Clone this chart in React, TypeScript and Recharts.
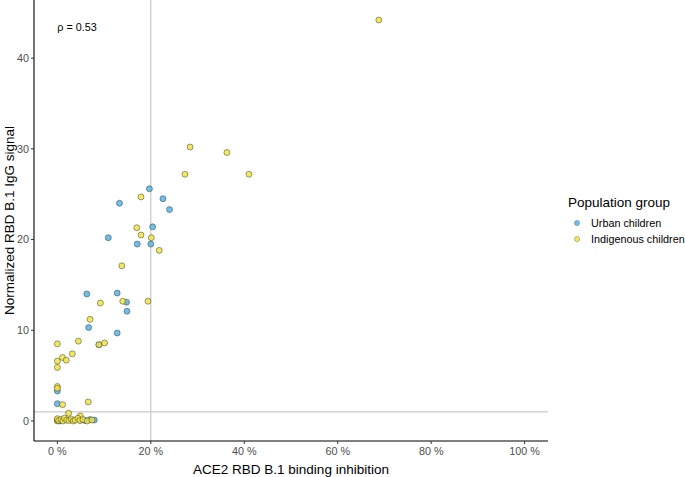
import React from "react";
import {
  ScatterChart,
  Scatter,
  XAxis,
  YAxis,
  ReferenceLine,
  ReferenceDot,
  Legend,
} from "recharts";

// ACE2 RBD B.1 binding inhibition (%) and normalized IgG signal, per group
const urbanInhibition = [
  19.7, 13.3, 22.6, 24.0, 20.4, 10.9, 17.1, 20.0, 6.3, 12.8, 14.8, 14.9, 6.7,
  12.8, 8.9, 0, 0, 0.5, 4.9, 5.9, 7.0, 7.9,
];
const urbanIgG = [
  25.6, 24.0, 24.5, 23.3, 21.4, 20.2, 19.5, 19.5, 14.0, 14.1, 13.1, 12.1, 10.3,
  9.7, 8.4, 3.3, 1.9, 0.0, 0.1, 0.05, 0.15, 0.1,
];

const indigenousInhibition = [
  68.8, 28.4, 36.3, 27.3, 41.0, 17.9, 17.0, 17.9, 20.1, 21.8, 13.8, 9.2, 14.0,
  19.4, 7.0, 0, 4.5, 8.9, 10.1, 3.2, 1.1, 1.9, 0, 0, 0, 0, 1.1, 6.6, 2.4, 4.9,
  0, 0, 0, 0.3, 0.8, 1.2, 1.5, 2.0, 2.5, 3.0, 3.4, 3.8, 4.4, 4.8, 5.5, 6.4,
  7.4,
];
const indigenousIgG = [
  44.2, 30.2, 29.6, 27.2, 27.2, 24.7, 21.3, 20.5, 20.2, 18.8, 17.1, 13.0, 13.2,
  13.2, 11.2, 8.5, 8.8, 8.4, 8.6, 7.4, 7.0, 6.7, 6.6, 5.9, 3.8, 3.6, 1.8, 2.1,
  0.85, 0.55, 0.0, 0.1, 0.25, 0.05, 0.15, 0.0, 0.3, 0.1, 0.05, 0.2, 0.0, 0.1,
  0.3, 0.05, 0.15, 0.0, 0.1,
];

const groupNames = ["Urban children", "Indigenous children"];
const groupColors = ["#56B4E9", "#F0E442"];
const xTicks = [0, 20, 40, 60, 80, 100];
const yTicks = [0, 10, 20, 30, 40];
const rho = "ρ = 0.53";

const urbanData = urbanInhibition.map((x, i) => ({ x, y: urbanIgG[i] }));
const indigenousData = indigenousInhibition.map((x, i) => ({
  x,
  y: indigenousIgG[i],
}));

const FONT = "'Liberation Sans', Arial, Helvetica, sans-serif";

const makeDot = (color: string) => (props: any) => (
  <circle
    cx={props.cx}
    cy={props.cy}
    r={3}
    fill={color}
    fillOpacity={0.85}
    stroke="#333"
    strokeOpacity={0.6}
    strokeWidth={0.8}
  />
);

const XTitle = ({ viewBox }: any) => (
  <text
    x={viewBox.x + viewBox.width / 2}
    y={469}
    textAnchor="middle"
    dominantBaseline="central"
    fontSize={13.5}
    fontFamily={FONT}
    fill="#000"
  >
    ACE2 RBD B.1 binding inhibition
  </text>
);

const YTitle = ({ viewBox }: any) => {
  const cx = 9;
  const cy = viewBox.y + viewBox.height / 2;
  return (
    <text
      x={cx}
      y={cy}
      transform={`rotate(-90, ${cx}, ${cy})`}
      textAnchor="middle"
      dominantBaseline="central"
      fontSize={13.5}
      fontFamily={FONT}
      fill="#000"
    >
      Normalized RBD B.1 IgG signal
    </text>
  );
};

const RhoText = ({ viewBox }: any) => (
  <text
    x={viewBox.x + viewBox.width / 2}
    y={viewBox.y + viewBox.height / 2}
    dominantBaseline="central"
    fontSize={10.8}
    fontFamily={FONT}
    fill="#000"
  >
    {rho}
  </text>
);

const LegendBox = () => (
  <div style={{ fontFamily: FONT, color: "#000" }}>
    <div style={{ fontSize: 13.5, marginBottom: 5 }}>Population group</div>
    {groupNames.map((name, i) => (
      <div
        key={name}
        style={{ display: "flex", alignItems: "center", height: 16 }}
      >
        <svg width={23} height={10}>
          <circle
            cx={9}
            cy={5}
            r={2.6}
            fill={groupColors[i]}
            fillOpacity={0.85}
            stroke="#333"
            strokeOpacity={0.5}
            strokeWidth={0.6}
          />
        </svg>
        <span style={{ fontSize: 10.8 }}>{name}</span>
      </div>
    ))}
  </div>
);

export default function App() {
  return (
    <div
      style={{
        position: "absolute",
        left: 0,
        top: 0,
        width: 685,
        height: 477,
        background: "#fff",
      }}
    >
      <ScatterChart
        width={685}
        height={477}
        margin={{ top: 0, right: 137, bottom: 0, left: 0 }}
      >
        <XAxis
          type="number"
          dataKey="x"
          domain={[-5, 105]}
          ticks={xTicks}
          tickFormatter={(v) => `${v} %`}
          height={36}
          tickSize={3}
          tickMargin={3}
          axisLine={{ stroke: "#000", strokeWidth: 1.1 }}
          tickLine={{ stroke: "#333" }}
          tick={{ fill: "#4d4d4d", fontSize: 10.8, fontFamily: FONT }}
          allowDataOverflow
          label={<XTitle />}
        />
        <YAxis
          type="number"
          dataKey="y"
          domain={[-2.21, 46.41]}
          ticks={yTicks}
          width={34}
          tickSize={3}
          tickMargin={2}
          axisLine={{ stroke: "#000", strokeWidth: 1.1 }}
          tickLine={{ stroke: "#333" }}
          tick={{ fill: "#4d4d4d", fontSize: 10.8, fontFamily: FONT }}
          allowDataOverflow
          label={<YTitle />}
        />
        <ReferenceLine x={20} stroke="#bdbdbd" strokeWidth={1} />
        <ReferenceLine y={1} stroke="#bdbdbd" strokeWidth={1} />
        <ReferenceDot
          x={0}
          y={43.4}
          r={0}
          fill="none"
          stroke="none"
          label={<RhoText />}
        />
        <Scatter
          name={groupNames[0]}
          data={urbanData}
          fill={groupColors[0]}
          shape={makeDot(groupColors[0])}
          isAnimationActive={false}
        />
        <Scatter
          name={groupNames[1]}
          data={indigenousData}
          fill={groupColors[1]}
          shape={makeDot(groupColors[1])}
          isAnimationActive={false}
        />
        <Legend
          layout="vertical"
          align="center"
          verticalAlign="middle"
          wrapperStyle={{ left: 568, top: 195, width: 117 }}
          content={<LegendBox />}
        />
      </ScatterChart>
    </div>
  );
}
